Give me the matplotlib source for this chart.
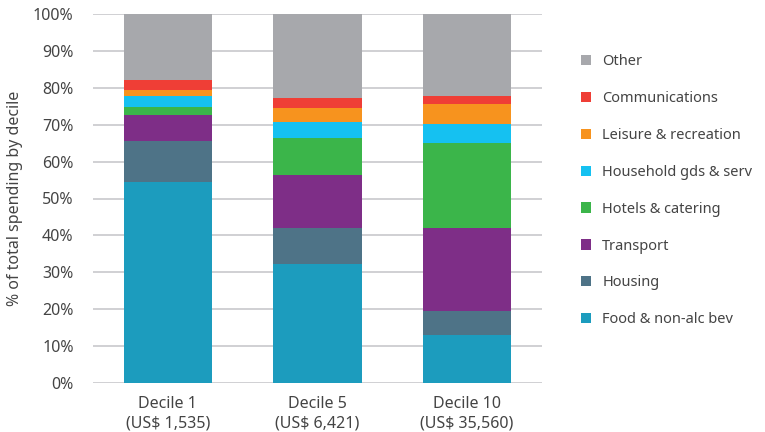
import numpy as np
import matplotlib.pyplot as plt

plt.rcParams['font.family'] = ['Noto Sans', 'DejaVu Sans']

deciles = ["Decile 1\n(US\\$ 1,535)", "Decile 5\n(US\\$ 6,421)", "Decile 10\n(US\\$ 35,560)"]
categories = ["Food & non-alc bev", "Housing", "Transport", "Hotels & catering",
              "Household gds & serv", "Leisure & recreation", "Communications", "Other"]
food = [54.5, 32.2, 13.0]
housing = [11.1, 9.8, 6.5]
transport = [7.0, 14.4, 22.5]
hotels = [2.2, 10.0, 23.0]
household = [3.0, 4.4, 5.2]
leisure = [1.6, 3.7, 5.4]
communications = [2.7, 2.7, 2.2]
other = [17.9, 22.8, 22.2]
colors = ["#1C9CBE", "#4E7387", "#7E2E87", "#3BB54A",
          "#15C1F1", "#F7931E", "#EF3E36", "#A7A8AC"]

series = [food, housing, transport, hotels, household, leisure, communications, other]

fig = plt.figure(figsize=(7.65, 4.32), dpi=100)
ax = fig.add_axes([93 / 765, 1 - 383 / 432, 449 / 765, 369 / 432])

x = np.arange(len(deciles))
bottom = np.zeros(len(deciles))
handles = []
for vals, c, name in zip(series, colors, categories):
    h = ax.bar(x, vals, 0.59, bottom=bottom, color=c, label=name, zorder=3)
    handles.append(h)
    bottom += np.array(vals)

ax.set_xlim(-0.5, 2.5)
ax.set_ylim(0, 100)
ax.set_yticks(np.arange(0, 101, 10))
ax.set_yticklabels([f"{v}%" for v in range(0, 101, 10)])
ax.set_xticks(x)
ax.set_xticklabels(deciles, linespacing=1.3)
ax.tick_params(length=0, labelsize=11.5, colors="#444444")
ax.tick_params(axis="x", pad=9)
ax.tick_params(axis="y", pad=14)
ax.grid(axis="y", color="#C8C8CC", linewidth=1.2, zorder=0)
for s in ax.spines.values():
    s.set_visible(False)
ax.set_ylabel("% of total spending by decile", fontsize=11.5, color="#444444")
ax.yaxis.set_label_coords(-0.156, 0.5)

leg = fig.legend(handles[::-1], categories[::-1], loc="upper left",
                 bbox_to_anchor=(568 / 765, 1 - 41 / 432), frameon=False,
                 fontsize=10.5, labelcolor="#444444", handlelength=0.7,
                 handleheight=0.7, handletextpad=0.75, labelspacing=1.5)

fig.savefig("out.png", dpi=100)
